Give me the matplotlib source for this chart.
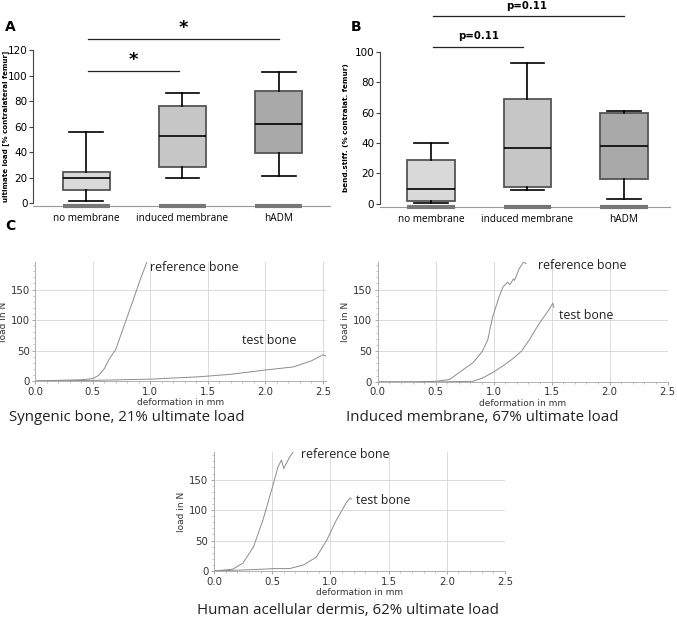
import numpy as np
import matplotlib
matplotlib.use("Agg")
import matplotlib.pyplot as plt
from matplotlib.ticker import MultipleLocator

# ---- data ----
groups = ["no membrane", "induced membrane", "hADM"]

# panel A: ultimate load [% contralateral femur]
a_low = [2, 20, 21]
a_q1 = [10, 28, 39]
a_med = [20, 53, 62]
a_q3 = [24, 76, 88]
a_high = [56, 86, 103]

# panel B: bending stiffness [% contralateral femur]
b_low = [0.5, 9, 3]
b_q1 = [2, 11, 16]
b_med = [10, 37, 38]
b_q3 = [29, 69, 60]
b_high = [40, 93, 61]

box_colors = ["#d9d9d9", "#c6c6c6", "#a9a9a9"]

# panel C: load-deformation curves
syn_ref_x = [0.0, 0.2, 0.4, 0.5, 0.55, 0.6, 0.65, 0.7, 0.77, 0.85, 0.91, 0.97]
syn_ref_y = [0, 1, 2, 4, 9, 20, 38, 52, 89, 132, 165, 195]
syn_test_x = [0.0, 0.5, 1.0, 1.43, 1.7, 2.0, 2.24, 2.4, 2.5, 2.53]
syn_test_y = [0, 1, 3, 7, 11, 18, 23, 33, 43, 41]

ind_ref_x = [0.0, 0.3, 0.5, 0.62, 0.7, 0.82, 0.9, 0.95, 0.99, 1.05, 1.08, 1.12, 1.14, 1.17, 1.18, 1.22, 1.26, 1.28]
ind_ref_y = [0, 0, 1, 4, 15, 31, 49, 69, 105, 140, 154, 162, 158, 167, 165, 184, 195, 192]
ind_test_x = [0.0, 0.5, 0.82, 0.9, 0.99, 1.08, 1.16, 1.24, 1.31, 1.39, 1.48, 1.51, 1.52]
ind_test_y = [0, 0, 1, 6, 15, 26, 37, 50, 69, 94, 118, 128, 121]

had_ref_x = [0.0, 0.16, 0.25, 0.34, 0.42, 0.51, 0.55, 0.58, 0.6, 0.62, 0.65, 0.68]
had_ref_y = [0, 3, 13, 40, 83, 143, 171, 182, 168, 176, 187, 195]
had_test_x = [0.0, 0.42, 0.51, 0.65, 0.77, 0.88, 0.97, 1.05, 1.14, 1.17, 1.18]
had_test_y = [0, 3, 4, 4, 10, 23, 51, 83, 113, 120, 118]

fig = plt.figure(figsize=(6.77, 6.19), dpi=100)


def box_panel(rect, low, q1, med, q3, high, ylim, yticks, xlim):
    ax = fig.add_axes(rect)
    stats = []
    for i in range(len(groups)):
        stats.append({"whislo": low[i], "q1": q1[i], "med": med[i],
                      "q3": q3[i], "whishi": high[i], "fliers": []})
    pos = np.arange(1, len(groups) + 1)
    bp = ax.bxp(stats, positions=pos, widths=0.49, capwidths=0.35,
                patch_artist=True, showfliers=False,
                boxprops=dict(edgecolor="#555555", linewidth=1.3),
                medianprops=dict(color="black", linewidth=1.2),
                whiskerprops=dict(color="black", linewidth=1.2),
                capprops=dict(color="black", linewidth=1.2))
    for patch, c in zip(bp["boxes"], box_colors):
        patch.set_facecolor(c)
    ax.set_xlim(*xlim)
    ax.set_ylim(*ylim)
    ax.set_yticks(yticks)
    ax.set_yticklabels([str(t) for t in yticks], fontsize=7.5)
    ax.spines["top"].set_visible(False)
    ax.spines["right"].set_visible(False)
    ax.spines["left"].set_bounds(0, yticks[-1])
    ax.spines["left"].set_color("#444444")
    ax.spines["bottom"].set_color("#999999")
    ax.tick_params(axis="y", length=3, width=0.8, pad=1, color="#444444")
    ax.set_xticks(pos)
    ax.set_xticklabels(groups, fontsize=7.2, family="Open Sans")
    ax.tick_params(axis="x", length=0, pad=5)
    # darker segments on the baseline under each box
    for p in pos:
        ax.plot([p - 0.245, p + 0.245], [ylim[0], ylim[0]], color="#777777",
                lw=3, solid_capstyle="butt", clip_on=False, zorder=5)
    return ax


# panel A
axA = box_panel([0.049, 0.667, 0.438, 0.252], a_low, a_q1, a_med, a_q3, a_high,
                (-2.4, 120), [0, 20, 40, 60, 80, 100, 120], (0.45, 3.53))
axA.set_ylabel("ultimate load [% contralateral femur]", fontsize=5.1, fontweight="bold")
axA.yaxis.set_label_coords(-0.083, 0.51)
axA.plot([1.02, 1.96], [104, 104], color="#222222", lw=0.9, clip_on=False)
axA.plot([1.02, 3.0], [128.6, 128.6], color="#222222", lw=0.9, clip_on=False)
axA.text(1.49, 112, "*", ha="center", va="center", fontsize=13, fontweight="bold")
axA.text(2.01, 137.5, "*", ha="center", va="center", fontsize=13, fontweight="bold")
fig.text(0.008, 0.956, "A", fontsize=10, fontweight="bold", va="center")

# panel B
axB = box_panel([0.561, 0.666, 0.429, 0.250], b_low, b_q1, b_med, b_q3, b_high,
                (-2, 100), [0, 20, 40, 60, 80, 100], (0.47, 3.48))
axB.set_ylabel("bend.stiff. (% contralat. femur)", fontsize=5.2, fontweight="bold")
axB.yaxis.set_label_coords(-0.105, 0.51)
axB.plot([1.02, 1.95], [103, 103], color="#222222", lw=0.9, clip_on=False)
axB.plot([1.02, 3.0], [123.7, 123.7], color="#222222", lw=0.9, clip_on=False)
axB.text(1.49, 110.5, "p=0.11", ha="center", va="center", fontsize=7.3, fontweight="bold")
axB.text(1.99, 130.5, "p=0.11", ha="center", va="center", fontsize=7.3, fontweight="bold")
fig.text(0.518, 0.956, "B", fontsize=10, fontweight="bold", va="center")


def curve_panel(rect, xmax, ref_x, ref_y, test_x, test_y, ref_pos, test_pos, title, title_xy):
    ax = fig.add_axes(rect)
    ax.plot(ref_x, ref_y, color="#8c8c8c", lw=0.7)
    ax.plot(test_x, test_y, color="#8c8c8c", lw=0.7)
    ax.set_xlim(0, xmax)
    ax.set_ylim(0, 195)
    ax.set_xticks([0.0, 0.5, 1.0, 1.5, 2.0, 2.5])
    ax.set_xticklabels(["0.0", "0.5", "1.0", "1.5", "2.0", "2.5"])
    ax.set_yticks([0, 50, 100, 150])
    ax.xaxis.set_minor_locator(MultipleLocator(0.1))
    ax.yaxis.set_minor_locator(MultipleLocator(10))
    ax.grid(True, which="major", color="#d4d4d4", lw=0.6)
    ax.set_axisbelow(True)
    for s in ["top", "right"]:
        ax.spines[s].set_visible(False)
    for s in ["left", "bottom"]:
        ax.spines[s].set_color("#b0b0b0")
        ax.spines[s].set_linewidth(0.7)
    ax.tick_params(which="major", length=2.5, width=0.6, color="#999999",
                   labelsize=7.3, labelcolor="#333333", pad=1.5)
    ax.tick_params(which="minor", length=1.5, width=0.5, color="#aaaaaa")
    ax.set_xlabel("deformation in mm", fontsize=6.5, color="#333333", labelpad=1)
    ax.set_ylabel("load in N", fontsize=6.5, color="#333333", labelpad=2)
    ax.text(ref_pos[0], ref_pos[1], "reference bone", fontsize=8.9,
            family="Open Sans", va="center", color="#222222")
    ax.text(test_pos[0], test_pos[1], "test bone", fontsize=8.9,
            family="Open Sans", va="center", color="#222222")
    fig.text(title_xy[0], title_xy[1], title, fontsize=10.8, family="Open Sans",
             ha="center", va="center", color="#222222")
    return ax


curve_panel([0.052, 0.3845, 0.430, 0.192], 2.53, syn_ref_x, syn_ref_y,
            syn_test_x, syn_test_y, (1.0, 187), (1.8, 67),
            "Syngenic bone, 21% ultimate load", (0.187, 0.325))
curve_panel([0.558, 0.383, 0.428, 0.194], 2.5, ind_ref_x, ind_ref_y,
            ind_test_x, ind_test_y, (1.38, 189), (1.56, 108),
            "Induced membrane, 67% ultimate load", (0.713, 0.325))
curve_panel([0.316, 0.0775, 0.430, 0.192], 2.5, had_ref_x, had_ref_y,
            had_test_x, had_test_y, (0.75, 192), (1.22, 116),
            "Human acellular dermis, 62% ultimate load", (0.514, 0.013))
fig.text(0.008, 0.635, "C", fontsize=10, fontweight="bold", va="center")

fig.savefig("out.png", dpi=100)
